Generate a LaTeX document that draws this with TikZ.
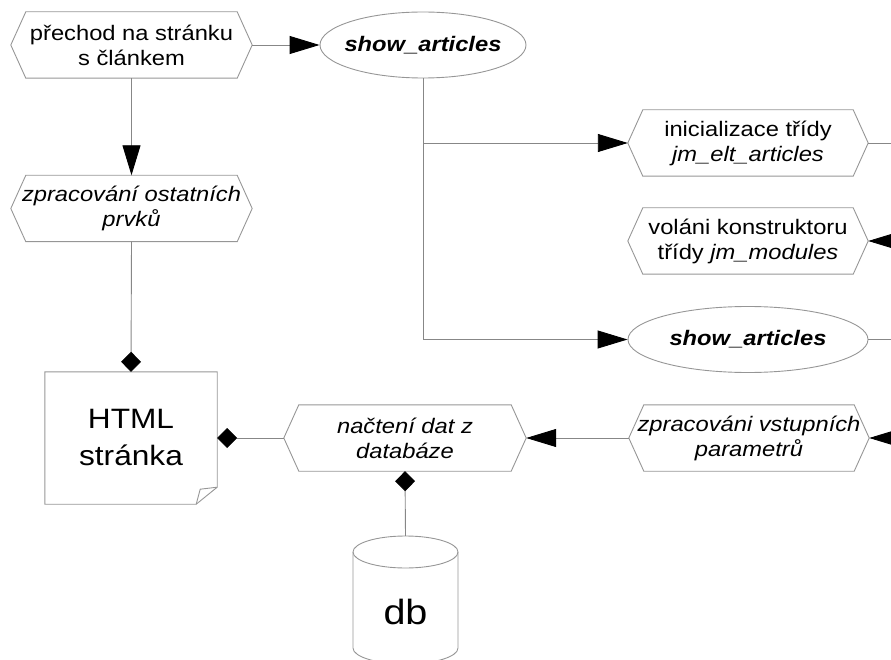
\documentclass[tikz,border=0pt]{standalone}
\usepackage{fontspec}
\setmainfont{Liberation Sans}[FakeStretch=1.13]
\usetikzlibrary{arrows.meta,shapes.geometric}
\definecolor{linec}{RGB}{135,135,135}
\definecolor{outc}{RGB}{150,150,150}
\newcommand\myfs{\fontsize{21}{25}\selectfont}
\begin{document}
\begin{tikzpicture}[x=1pt,y=1pt,
  conn/.style={draw=linec, line width=0.9pt},
  outl/.style={draw=outc, line width=0.9pt},
  arr/.style={conn, -{Triangle[length=30pt,width=18pt,color=black,fill=black]}},
  dia/.style={conn, -{Diamond[length=20pt,width=20pt,color=black,fill=black]}},
  txt/.style={font=\myfs, align=center, text=black},
  itxt/.style={font=\myfs\itshape, align=center, text=black},
  hexa/.style={minimum width=#1, minimum height=66pt, inner sep=0pt,
    append after command={\pgfextra{\draw[outl] (\tikzlastnode.west)
      -- ([xshift=15pt]\tikzlastnode.north west)
      -- ([xshift=-15pt]\tikzlastnode.north east)
      -- (\tikzlastnode.east)
      -- ([xshift=-15pt]\tikzlastnode.south east)
      -- ([xshift=15pt]\tikzlastnode.south west) -- cycle;}}},
  hexa/.default=241pt,
  oval/.style={ellipse, outl, minimum width=#1, minimum height=66pt, inner sep=0pt},
]
\useasboundingbox (0,0) rectangle (891,-660);
\clip (0,0) rectangle (891,-660);

% nodes
\node[hexa, txt] (n1) at (131.5,-45) {přechod na stránku\\s článkem};
\node[hexa, itxt] (n2) at (131.5,-208.5) {zpracování ostatních\\prvků};
\node[oval=206pt, txt] (sa1) at (423,-45) {\makebox[0pt]{\textbf{\textit{show\_articles}}}};
\node[hexa=240pt, txt] (init) at (748,-143) {inicializace třídy\\\textit{jm\_elt\_articles}};
\node[hexa=240pt, txt] (vol) at (748,-241) {voláni konstruktoru\\třídy \textit{jm\_modules}};
\node[oval=240pt, txt] (sa2) at (748,-339.5) {\makebox[0pt]{\textbf{\textit{show\_articles}}}};
\node[hexa=240pt, itxt] (zpv) at (749,-438) {zpracováni vstupních\\parametrů};
\node[hexa=242pt, itxt] (nac) at (405,-438) {načtení dat z\\databáze};

% HTML page
\node[minimum width=172pt, minimum height=132pt, inner sep=0pt,
      font=\fontsize{28}{37}\selectfont, align=center] (html) at (131,-438) {HTML\\stránka};
\draw[outl] (html.north west) -- (html.north east) -- ([yshift=17pt]html.south east)
  -- ([xshift=-21pt]html.south east) -- (html.south west) -- cycle;
\draw[outl] ([yshift=17pt]html.south east) -- ([xshift=-17pt,yshift=15pt]html.south east)
  -- ([xshift=-21pt]html.south east);

% database cylinder
\node[minimum width=105pt, minimum height=130pt, inner sep=0pt] (cyl) at (405.5,-601) {};
\draw[outl] (405.5,-552) ellipse [x radius=52.5, y radius=16];
\draw[outl] (353,-552) -- (353,-648) arc[start angle=180, end angle=360, x radius=52.5, y radius=16] -- (458,-552);
\node[font=\fontsize{35}{40}\selectfont, inner sep=0pt] (dbt) at (405.5,-612) {db};

% off-edge stubs
\coordinate (r1) at (910,-143);
\coordinate (r2) at (910,-241);
\coordinate (r3) at (910,-339.5);
\coordinate (r4) at (910,-438);
\coordinate (b1) at (sa1.south |- init.west);
\coordinate (b2) at (sa1.south |- sa2.west);

% connectors
\draw[arr] (n1.east) -- (sa1.west);
\draw[arr] (n1.south) -- (n2.north);
\draw[dia] (n2.south) -- (html.north);
\draw[arr] (sa1.south) -- (b2) -- (sa2.west);
\draw[arr] (b1) -- (init.west);
\draw[conn] (init.east) -- (r1);
\draw[arr] (r2) -- (vol.east);
\draw[conn] (sa2.east) -- (r3);
\draw[arr] (r4) -- (zpv.east);
\draw[arr] (zpv.west) -- (nac.east);
\draw[dia] (nac.west) -- (html.east);
\draw[dia] (cyl.north) -- (nac.south);
\end{tikzpicture}
\end{document}
